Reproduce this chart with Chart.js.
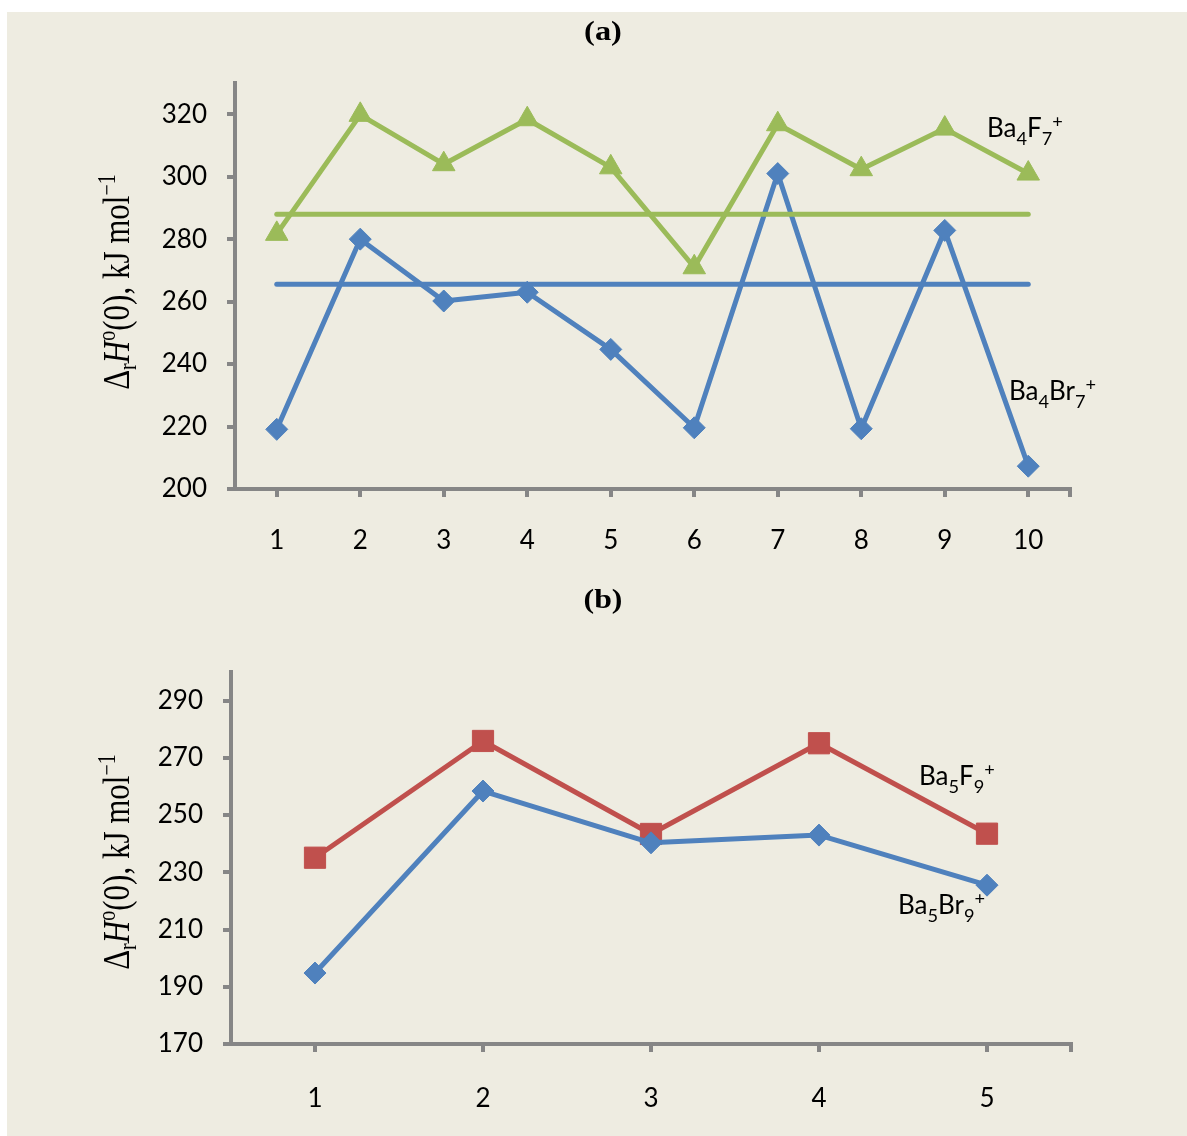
<!DOCTYPE html>
<html>
<head>
<meta charset="utf-8">
<script src="https://cdn.jsdelivr.net/npm/chart.js@4.4.1/dist/chart.umd.min.js"></script>
<style>
    body { margin: 0; background: #ffffff; }
    #panel { position: absolute; left: 7px; top: 12px; width: 1180px; height: 1124px; background: #EEECE1; }
    canvas { position: absolute; left: 0; }
</style>
</head>
<body>
<div id="panel"></div>
<canvas id="chartA" width="1187" height="565" style="top:0px"></canvas>
<canvas id="chartB" width="1187" height="571" style="top:565px"></canvas>
<script>
// (a) Ba4X7+ values
var labelsA = ["1", "2", "3", "4", "5", "6", "7", "8", "9", "10"];
var ticksA = [200, 220, 240, 260, 280, 300, 320];
var ba4f7 = [281.7, 319.8, 304, 318.4, 303, 271, 316.8, 302.4, 315.4, 301];
var ba4f7Ref = [288, 288, 288, 288, 288, 288, 288, 288, 288, 288];
var ba4br7 = [219.1, 280, 260.2, 263, 244.7, 219.6, 301, 219.3, 282.8, 207.3];
var ba4br7Ref = [265.6, 265.6, 265.6, 265.6, 265.6, 265.6, 265.6, 265.6, 265.6, 265.6];

// (b) Ba5X9+ values
var labelsB = ["1", "2", "3", "4", "5"];
var ticksB = [170, 190, 210, 230, 250, 270, 290];
var ba5f9 = [235.1, 275.9, 243.4, 275.1, 243.5];
var ba5br9 = [194.8, 258.4, 240.3, 243, 225.5];

var GREEN = "#9BBB59";
var BLUE = "#4F81BD";
var RED = "#C0504D";
var AXIS = "#868686";
var SANS = "Lato, 'Open Sans', sans-serif";
var SERIF = "'Liberation Serif', 'DejaVu Serif', serif";

// draw a row of text runs (sub/superscripts), x = left or centre
function drawRich(ctx, runs, x, y, size, family, center) {
    var total = 0;
    runs.forEach(function (r) {
        var s = size * (r.k || 1);
        r.font = (r.i ? "italic " : "") + (r.b ? "bold " : "") + s + "px " + family;
        ctx.font = r.font;
        r.w = ctx.measureText(r.t).width;
        total += r.w;
    });
    var cx = center ? x - total / 2 : x;
    runs.forEach(function (r) {
        ctx.font = r.font;
        ctx.fillText(r.t, cx, y + (r.dy || 0) * size);
        cx += r.w;
    });
}

function yTitleRuns() {
    return [
        { t: "\u0394" },
        { t: "r", k: 0.65, dy: 0.2 },
        { t: "H", i: true },
        { t: "o", k: 0.65, dy: -0.38 },
        { t: "(0), kJ mol" },
        { t: "\u22121", k: 0.65, dy: -0.38 }
    ];
}

function formula(a, n1, b, n2) {
    return [
        { t: a },
        { t: n1, k: 0.7, dy: 0.3 },
        { t: b },
        { t: n2, k: 0.7, dy: 0.3 },
        { t: "+", k: 0.7, dy: -0.35 }
    ];
}

function textPlugin(cfg) {
    return {
        id: "texts",
        afterDraw: function (chart) {
            var ctx = chart.ctx;
            var area = chart.chartArea;
            ctx.save();
            ctx.fillStyle = "#000";
            ctx.textBaseline = "alphabetic";

            // end tick on the category axis
            ctx.strokeStyle = AXIS;
            ctx.lineWidth = 4;
            ctx.beginPath();
            ctx.moveTo(area.right, area.bottom);
            ctx.lineTo(area.right, area.bottom + 8);
            ctx.stroke();

            // panel letter
            ctx.save();
            ctx.translate(603, cfg.titleY);
            ctx.scale(cfg.titleSx, 1);
            drawRich(ctx, [{ t: cfg.title, b: true }], 0, 0, cfg.titleSize, SERIF, true);
            ctx.restore();

            // y axis title
            ctx.save();
            ctx.translate(cfg.yTitleX, cfg.yTitleY);
            ctx.scale(1.2, 1);
            ctx.rotate(-Math.PI / 2);
            drawRich(ctx, yTitleRuns(), 0, 0, 31, SERIF, true);
            ctx.restore();

            cfg.notes.forEach(function (n) {
                drawRich(ctx, n.runs, n.x, n.y, 26, SANS, false);
            });
            ctx.restore();
        }
    };
}

function scales(yMin, yMax, tickValues, yWidth, xHeight, xPad) {
    var tickFont = { family: SANS, size: 26 };
    return {
        x: {
            offset: true,
            grid: { offset: false, drawOnChartArea: false, drawTicks: true, tickLength: 8, color: AXIS, lineWidth: 4 },
            border: { color: AXIS, width: 4 },
            ticks: { font: tickFont, color: "#000", padding: xPad, maxRotation: 0, autoSkip: false },
            afterFit: function (s) { s.height = xHeight; }
        },
        y: {
            min: yMin,
            max: yMax,
            grid: { drawOnChartArea: false, drawTicks: true, tickLength: 8, color: AXIS, lineWidth: 4 },
            border: { color: AXIS, width: 4 },
            ticks: { font: tickFont, color: "#000", padding: 20 },
            afterBuildTicks: function (s) {
                s.ticks = tickValues.map(function (v) { return { value: v }; });
            },
            afterFit: function (s) { s.width = yWidth; }
        }
    };
}

function series(label, values, color, style, radius) {
    return {
        label: label,
        data: values,
        borderColor: color,
        backgroundColor: color,
        borderWidth: 5,
        borderCapStyle: "round",
        borderJoinStyle: "round",
        tension: 0,
        pointStyle: style,
        pointRadius: radius,
        pointBorderWidth: 1,
        pointHoverRadius: radius
    };
}

function refLine(label, values, color) {
    return {
        label: label,
        data: values,
        borderColor: color,
        borderWidth: 5,
        borderCapStyle: "round",
        pointRadius: 0,
        pointHoverRadius: 0
    };
}

var common = {
    responsive: false,
    animation: false,
    devicePixelRatio: 1,
    plugins: { legend: { display: false }, tooltip: { enabled: false } },
    events: []
};

new Chart(document.getElementById("chartA"), {
    type: "line",
    data: {
        labels: labelsA,
        datasets: [
            refLine("Ba4F7+ mean", ba4f7Ref, GREEN),
            refLine("Ba4Br7+ mean", ba4br7Ref, BLUE),
            series("Ba4Br7+", ba4br7, BLUE, "rectRot", 11),
            series("Ba4F7+", ba4f7, GREEN, "triangle", 13)
        ]
    },
    options: Object.assign({}, common, {
        layout: { padding: { top: 83, right: 117, left: 0, bottom: 0 } },
        scales: scales(200, 330, ticksA, 235, 76, 28)
    }),
    plugins: [textPlugin({
        title: "(a)", titleY: 40, titleSize: 27, titleSx: 1.2,
        yTitleX: 129, yTitleY: 282,
        notes: [
            { runs: formula("Ba", "4", "F", "7"), x: 987, y: 137 },
            { runs: formula("Ba", "4", "Br", "7"), x: 1009, y: 400 }
        ]
    })]
});

new Chart(document.getElementById("chartB"), {
    type: "line",
    data: {
        labels: labelsB,
        datasets: [
            series("Ba5Br9+", ba5br9, BLUE, "rectRot", 11),
            series("Ba5F9+", ba5f9, RED, "rect", 15)
        ]
    },
    options: Object.assign({}, common, {
        layout: { padding: { top: 107, right: 116, left: 0, bottom: 0 } },
        scales: scales(170, 300, ticksB, 231, 92, 31)
    }),
    plugins: [textPlugin({
        title: "(b)", titleY: 43, titleSize: 27, titleSx: 1.18,
        yTitleX: 129, yTitleY: 297,
        notes: [
            { runs: formula("Ba", "5", "F", "9"), x: 919, y: 220 },
            { runs: formula("Ba", "5", "Br", "9"), x: 898, y: 349 }
        ]
    })]
});
</script>
</body>
</html>
